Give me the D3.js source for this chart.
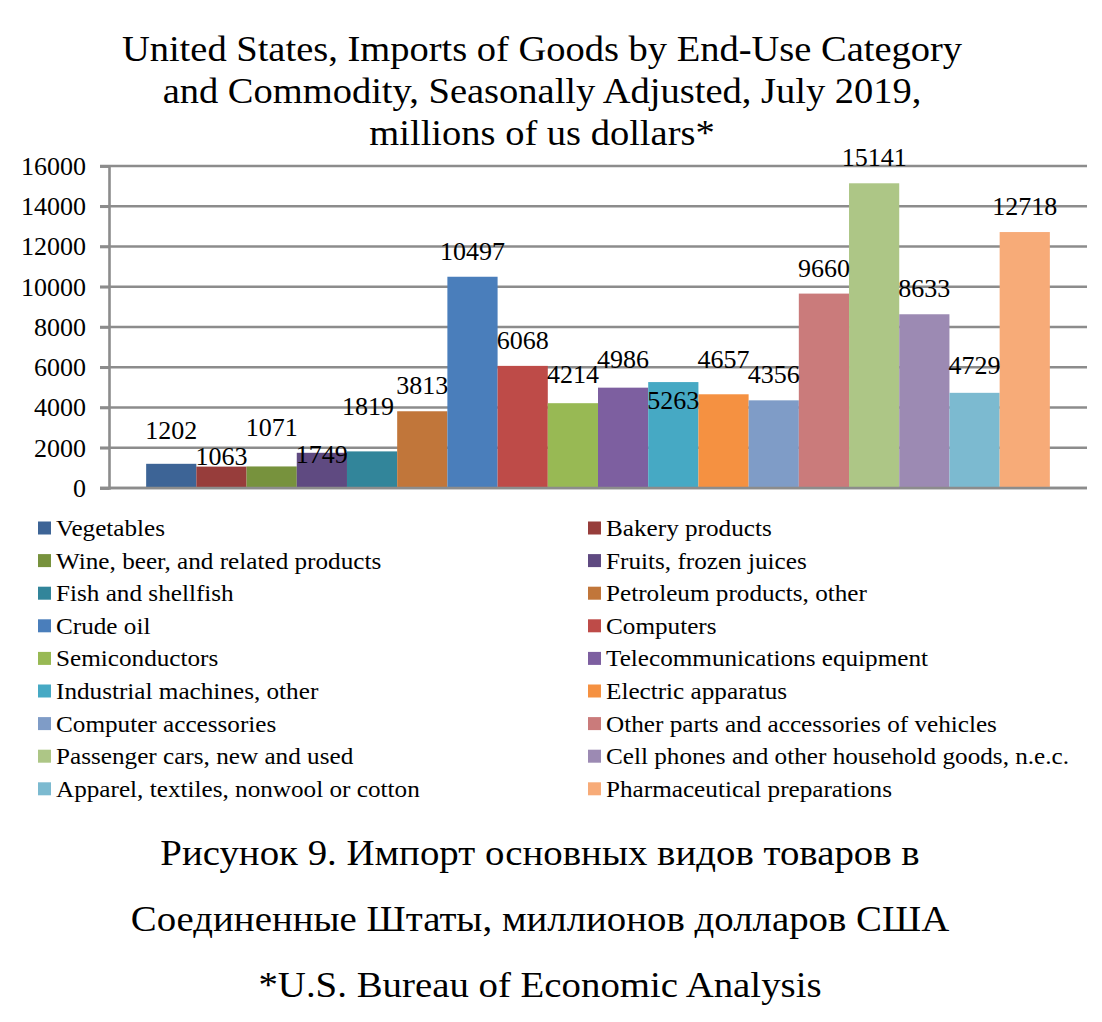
<!DOCTYPE html>
<html><head><meta charset="utf-8">
<script src="https://cdn.jsdelivr.net/npm/d3@7"></script>
<style>body{margin:0;background:#fff}svg{display:block}</style>
</head><body>
<script>
const categories = ["Vegetables","Bakery products","Wine, beer, and related products","Fruits, frozen juices","Fish and shellfish","Petroleum products, other","Crude oil","Computers","Semiconductors","Telecommunications equipment","Industrial machines, other","Electric apparatus","Computer accessories","Other parts and accessories of vehicles","Passenger cars, new and used","Cell phones and other household goods, n.e.c.","Apparel, textiles, nonwool or cotton","Pharmaceutical preparations"];
const values = [1202,1063,1071,1749,1819,3813,10497,6068,4214,4986,5263,4657,4356,9660,15141,8633,4729,12718];
const colors = ["#3d6496","#973d3b","#77923d","#5f4a81","#32859a","#c1763a","#4a7ebb","#be4b48","#98b954","#7d5fa0","#46a9c4","#f59141","#7f9cc7","#ca7b7b","#adc686","#9c8ab3","#7cbad0","#f7ab78"];
const yTicks = [0,2000,4000,6000,8000,10000,12000,14000,16000];
const titleLines = ["United States, Imports of Goods by End-Use Category","and Commodity, Seasonally Adjusted, July 2019,","millions of us dollars*"];
const captionLines = ["Рисунок 9. Импорт основных видов товаров в","Соединенные Штаты, миллионов долларов США","*U.S. Bureau of Economic Analysis"];
// manual label nudges (px) as in the original chart
const labelDx = [0,0,0,0,-4,0,0,0,0,0,0,0,0,0,0,0,0,0];
const labelDy = [-8,15,-13,27,-19,0,0,0,-3,-3,44,-9,0,0,0,0,-2,0];

const FONT = "'Liberation Serif', 'Times New Roman', serif";
const W=1102,H=1022;
const svg=d3.select("body").append("svg").attr("width",W).attr("height",H)
  .attr("font-family",FONT).style("font-family",FONT);
const plotL=109, plotR=1087, y0=488, y1=166;
const y=d3.scaleLinear().domain([0,16000]).range([y0,y1]);
const x=d3.scaleBand().domain(categories).range([plotL,plotR]).paddingInner(0).paddingOuter(0.74);

svg.append("g").selectAll("line").data(yTicks).join("line")
  .attr("x1",100).attr("x2",plotR).attr("y1",d=>y(d)).attr("y2",d=>y(d))
  .attr("stroke","#8c8c8c").attr("stroke-width",2.6);
const ax=svg.append("g").attr("transform",`translate(${plotL},0)`)
  .call(d3.axisLeft(y).tickValues(yTicks).tickSize(9).tickPadding(14).tickFormat(d3.format("d")));
ax.attr("font-family",null);
ax.select(".domain").attr("stroke","#8c8c8c").attr("stroke-width",2.6);
ax.selectAll(".tick line").attr("stroke","#8c8c8c").attr("stroke-width",2.6);
ax.selectAll(".tick text").style("font-size","26px").style("font-family",FONT).attr("fill","#000");

svg.append("g").selectAll("rect").data(values).join("rect")
  .attr("x",(d,i)=>x(categories[i])).attr("width",x.bandwidth())
  .attr("y",d=>y(d)).attr("height",d=>y0-y(d)).attr("fill",(d,i)=>colors[i]);
svg.append("line").attr("x1",100).attr("x2",plotR).attr("y1",y0).attr("y2",y0).attr("stroke","#8c8c8c").attr("stroke-width",2.6);

svg.append("g").selectAll("text").data(values).join("text")
  .attr("x",(d,i)=>x(categories[i])+x.bandwidth()/2+labelDx[i])
  .attr("y",(d,i)=>y(d)-17+labelDy[i])
  .attr("text-anchor","middle").style("font-size","26px").text(d=>d);

svg.append("g").selectAll("text").data(titleLines).join("text")
  .attr("transform",(d,i)=>`translate(542,${61+i*42}) scale(1.1,1)`).attr("text-anchor","middle")
  .style("font-size","35px").text(d=>d);

const leg=svg.append("g");
categories.forEach((c,i)=>{
  const col=i%2,row=Math.floor(i/2);
  const lx=col?588:38, ly=528+row*32.6;
  leg.append("rect").attr("x",lx).attr("y",ly-6.5).attr("width",13).attr("height",13).attr("fill",colors[i]);
  leg.append("text").attr("transform",`translate(${lx+18},${ly+8}) scale(1.05,1)`).style("font-size","24px").text(c);
});

svg.append("g").selectAll("text").data(captionLines).join("text")
  .attr("transform",(d,i)=>`translate(540,${865+i*66}) scale(1.11,1)`).attr("text-anchor","middle")
  .style("font-size","35px").text(d=>d);
</script>
</body></html>
